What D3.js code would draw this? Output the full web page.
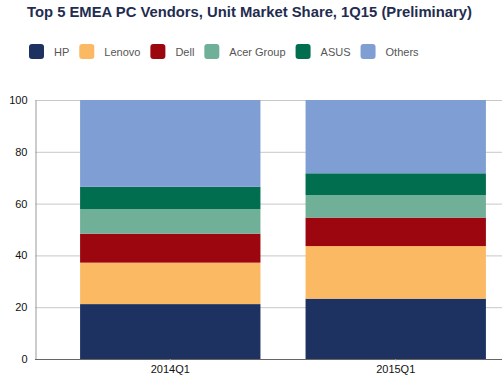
<!DOCTYPE html>
<html>
<head>
<meta charset="utf-8">
<script src="https://cdn.jsdelivr.net/npm/d3@7"></script>
<style>
    body { margin: 0; background: #fff; }
    text { font-family: "Liberation Sans", Arial, sans-serif; }
</style>
</head>
<body>
<div id="chart"></div>
<script>
// data
const quarters = ["2014Q1", "2015Q1"]
const vendors = ["HP", "Lenovo", "Dell", "Acer Group", "ASUS", "Others"]
const hp = [21.2, 23.3]
const lenovo = [16.0, 20.3]
const dell = [11.2, 11.0]
const acer = [9.5, 8.7]
const asus = [8.6, 8.4]
const others = [33.5, 28.3]
const yTicks = [0, 20, 40, 60, 80, 100]

const colors = ["#1d3261", "#fbb964", "#9c070f", "#71b098", "#006e4f", "#7f9ed3"]

const w = 502
const h = 377
const marg = { top: 100, right: -29, bottom: 18, left: 35 }

const series = [hp, lenovo, dell, acer, asus, others]
const table = quarters.map((q, i) => {
    const row = { quarter: q }
    vendors.forEach((v, j) => row[v] = series[j][i])
    return row
})
const stacked = d3.stack().keys(vendors)(table)

const svg = d3.select('#chart')
    .append('svg')
    .attr('width', w)
    .attr('height', h)

// title
svg.append('text')
    .attr('x', 27)
    .attr('y', 17)
    .attr('font-size', 14.8)
    .attr('font-weight', 'bold')
    .attr('fill', '#1f2d50')
    .text("Top 5 EMEA PC Vendors, Unit Market Share, 1Q15 (Preliminary)")

// scales
const xScale = d3.scaleBand()
    .domain(quarters)
    .range([marg.left, w - marg.right])
    .paddingInner(0.2)
    .paddingOuter(0.2)

const yScale = d3.scaleLinear()
    .domain([0, 100])
    .range([h - marg.bottom, marg.top])

// gridlines
svg.append('g')
    .selectAll('line')
    .data(yTicks.slice(1))
    .enter()
    .append('line')
    .attr('x1', marg.left)
    .attr('x2', w)
    .attr('y1', d => yScale(d) + 0.5)
    .attr('y2', d => yScale(d) + 0.5)
    .attr('stroke', '#c8c8c8')

// bars
svg.append('g')
    .selectAll('g')
    .data(stacked)
    .enter()
    .append('g')
    .attr('fill', (d, i) => colors[i])
    .selectAll('rect')
    .data(d => d)
    .enter()
    .append('rect')
    .attr('x', d => xScale(d.data.quarter))
    .attr('y', d => yScale(d[1]))
    .attr('width', xScale.bandwidth())
    .attr('height', d => yScale(d[0]) - yScale(d[1]))

// axes
const yAxis = d3.axisLeft(yScale).tickValues(yTicks).tickSize(0).tickPadding(8)
const yG = svg.append('g')
    .attr('transform', 'translate(' + (marg.left + 0.5) + ',0)')
    .call(yAxis)
yG.select('.domain').attr('stroke', '#999')
yG.selectAll('text').attr('font-size', 11).attr('fill', '#111')

const xAxis = d3.axisBottom(xScale).tickSize(2).tickPadding(4)
const xG = svg.append('g')
    .attr('transform', 'translate(0,' + (h - marg.bottom + 0.5) + ')')
    .call(xAxis)
xG.select('.domain').attr('stroke', '#666').attr('d', 'M' + marg.left + ',0H' + w)
xG.selectAll('.tick line').attr('stroke', '#ddd')
xG.selectAll('text').attr('font-size', 11).attr('fill', '#111')

// legend
const legend = svg.append('g')
let lx = 29
vendors.forEach((v, i) => {
    legend.append('rect')
        .attr('x', lx)
        .attr('y', 44)
        .attr('width', 15)
        .attr('height', 15)
        .attr('rx', 3)
        .attr('fill', colors[i])
    const t = legend.append('text')
        .attr('x', lx + 25)
        .attr('y', 56)
        .attr('font-size', 11)
        .attr('fill', '#555')
        .text(v)
    lx += 25 + t.node().getComputedTextLength() + 10
})
</script>
</body>
</html>
